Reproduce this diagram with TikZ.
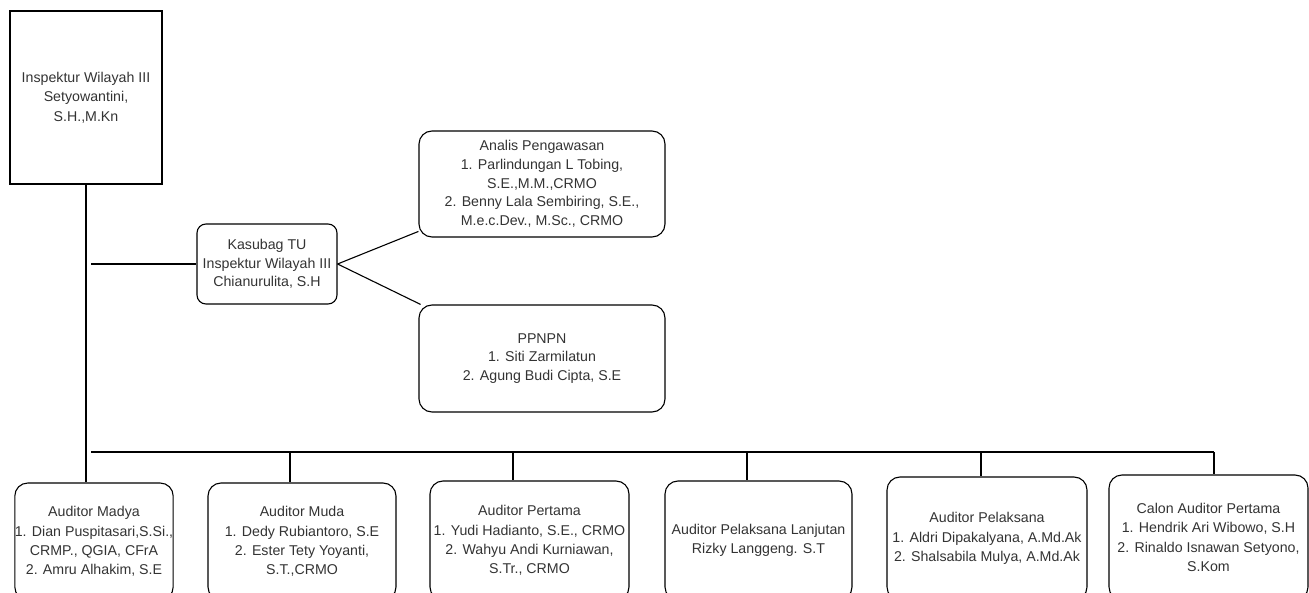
\documentclass[tikz,border=0pt]{standalone}
\usepackage{fontspec}
\setmainfont{Liberation Sans}
\usetikzlibrary{positioning,calc}
\definecolor{txtgray}{rgb}{0.2,0.2,0.2}

\begin{document}
\begin{tikzpicture}[x=1pt,y=-1pt,line width=1.1pt,
  box/.style={draw,inner sep=0pt,align=center,text=txtgray,
    font=\fontsize{14.2}{19.3}\selectfont},
  rbox/.style={box,rounded corners=13pt}]

\useasboundingbox (0,0) rectangle (1309,593);
\clip (0,0) rectangle (1309,593);

% kepala
\draw (86,97.5) node (insp) [box,minimum width=152pt,minimum height=173pt] {Inspektur Wilayah III\\Setyowantini,\\S.H.,M.Kn};

% tata usaha
\draw (267,264) node (kasubag) [box,rounded corners=9pt,minimum width=140pt,minimum height=80pt,font=\fontsize{14.2}{18.3}\selectfont] {Kasubag TU\\Inspektur Wilayah III\\Chianurulita, S.H};
\draw (542,184) node (analis) [rbox,minimum width=246pt,minimum height=106pt,font=\fontsize{14.2}{18.7}\selectfont] {Analis Pengawasan\\1. Parlindungan L Tobing,\\S.E.,M.M.,CRMO\\2. Benny Lala Sembiring, S.E.,\\M.e.c.Dev., M.Sc., CRMO};
\draw (542,358.5) node (ppnpn) [rbox,minimum width=246pt,minimum height=107pt,font=\fontsize{14.2}{18.7}\selectfont] {PPNPN\\1. Siti Zarmilatun\\2. Agung Budi Cipta, S.E};

% auditor
\draw (94,541.5) node (a1) [rbox,minimum width=158pt,minimum height=117pt] {Auditor Madya\\1. Dian Puspitasari,S.Si.,\\CRMP., QGIA, CFrA\\2. Amru Alhakim, S.E};
\draw (302,541.5) node (a2) [rbox,minimum width=188pt,minimum height=117pt] {Auditor Muda\\1. Dedy Rubiantoro, S.E\\2. Ester Tety Yoyanti,\\S.T.,CRMO};
\draw (529.5,540.5) node (a3) [rbox,minimum width=199pt,minimum height=119pt] {Auditor Pertama\\1. Yudi Hadianto, S.E., CRMO\\2. Wahyu Andi Kurniawan,\\S.Tr., CRMO};
\draw (758.5,540.5) node (a4) [rbox,minimum width=187pt,minimum height=119pt] {Auditor Pelaksana Lanjutan\\Rizky Langgeng. S.T};
\draw (987,538.5) node (a5) [rbox,minimum width=200pt,minimum height=123pt] {Auditor Pelaksana\\1. Aldri Dipakalyana, A.Md.Ak\\2. Shalsabila Mulya, A.Md.Ak};
\draw (1208.5,537.5) node (a6) [rbox,minimum width=199pt,minimum height=125pt] {Calon Auditor Pertama\\1. Hendrik Ari Wibowo, S.H\\2. Rinaldo Isnawan Setyono,\\S.Kom};

\coordinate (kstub) at (91,264);
\coordinate (busl) at (91,452);
\coordinate (d2) at (290,452);
\coordinate (d3) at (513,452);
\coordinate (d4) at (747,452);
\coordinate (d5) at (981,452);
\coordinate (d6) at (1214,452);

\draw (insp.south)--(insp.south |- a1.north);
\draw (kstub)--(kasubag.west);
\draw (kasubag.east)--(analis.201);
\draw (kasubag.east)--(ppnpn.156);
\draw (busl)--(d6);
\draw (d2)--(d2 |- a2.north);
\draw (d3)--(d3 |- a3.north);
\draw (d4)--(d4 |- a4.north);
\draw (d5)--(d5 |- a5.north);
\draw (d6)--(d6 |- a6.north);
\end{tikzpicture}
\end{document}
